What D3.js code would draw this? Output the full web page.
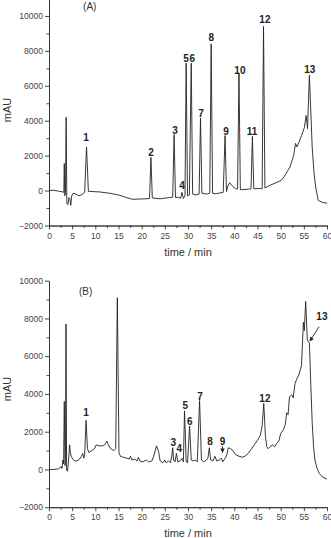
<!DOCTYPE html>
<html>
<head>
<meta charset="utf-8">
<script src="https://cdn.jsdelivr.net/npm/d3@7"></script>
<style>
	body { margin: 0; background: #fff; }
	svg { display: block; font-family: "Liberation Sans", Arial, sans-serif; }
	.axis path, .axis line { stroke: #333; stroke-width: 0.9; }
	.axis text { fill: #444; font-size: 8.5px; }
	.trace { fill: none; stroke: #222; stroke-width: 0.9; stroke-linejoin: round; }
	.peak { font-weight: bold; font-size: 10px; fill: #222; }
</style>
</head>
<body>
<script>
// time (min), absorbance (mAU)
const traceA = [
	[0,0],[1,20],[2,-30],[3,-80],[3.2,-100],[3.3,1550],[3.4,-300],[3.55,-200],[3.7,4200],[3.85,-750],
	[4.1,-800],[4.3,-400],[4.5,-450],[4.7,-850],[4.9,-300],[5.2,-150],[5.8,-200],[6.5,-300],[7.3,-200],
	[7.7,-100],[8.1,2500],[8.5,-50],[9,-50],[11,-80],[13,-150],[15,-250],[16.5,-380],[18,-500],[20,-480],
	[21.7,-460],[22.0,1900],[22.3,-420],[24,-470],[26,-400],[26.7,-380],[27.0,3200],[27.3,-400],[28.0,-380],
	[28.4,-450],[28.7,-100],[29.0,-450],[29.35,-300],[29.6,7300],[29.9,-300],[30.3,-250],[30.7,7300],
	[31.0,-200],[31.5,-250],[32.4,-200],[32.7,4150],[33.0,-150],[34.0,-200],[34.7,-150],[35.0,8400],
	[35.3,-150],[36,-180],[37.6,-100],[38.0,3150],[38.3,-50],[38.6,250],[39.0,450],[39.6,250],[40.3,100],
	[40.7,100],[41.0,6700],[41.3,50],[43.0,80],[43.6,100],[43.9,3100],[44.2,100],[45.5,120],[46.0,100],
	[46.3,9400],[46.6,150],[47.7,300],[49,450],[50.2,600],[51,900],[52,1350],[52.8,2000],[53.2,2700],
	[53.5,2500],[54.0,2800],[54.5,3150],[55.1,3600],[55.5,4300],[55.8,3550],[56.2,6600],[56.8,2500],
	[57.2,1000],[57.6,130],[58.1,-560],[59,-680],[60,-720]
];

const traceB = [
	[0,0],[1,0],[2,30],[2.6,150],[2.8,50],[3.0,500],[3.15,300],[3.3,3600],[3.45,200],[3.55,400],[3.67,7700],
	[3.8,-50],[4.0,-100],[4.2,400],[4.45,1300],[4.6,900],[4.8,700],[5.0,600],[5.5,450],[6.0,450],[6.6,550],
	[7.0,700],[7.3,850],[7.5,600],[7.7,800],[8.0,2600],[8.3,1100],[8.6,900],[9.2,1000],[9.8,1100],[10.2,1300],
	[10.8,1250],[11.5,1250],[12.0,1300],[12.5,1500],[12.8,1300],[13.3,1100],[14.0,1000],[14.4,1100],
	[14.75,9100],[15.1,900],[15.4,700],[16.0,650],[16.8,600],[17.3,550],[17.6,700],[17.9,500],[18.5,550],
	[19.0,450],[19.3,650],[19.6,450],[20.2,400],[21,500],[21.5,400],[22.2,450],[22.6,700],[23.2,1250],
	[23.6,1000],[24.0,450],[24.6,350],[25.0,500],[25.3,350],[25.8,450],[26.2,350],[26.5,700],[26.7,1150],
	[26.9,500],[27.2,400],[27.5,850],[27.8,400],[28.3,450],[28.8,600],[29.0,400],[29.25,3100],[29.6,450],
	[29.9,350],[30.35,2300],[30.7,500],[31.1,450],[31.6,500],[32.0,400],[32.5,3650],[32.9,500],[33.4,400],
	[34.0,500],[34.3,600],[34.6,1150],[34.9,500],[35.4,450],[35.8,700],[36.2,450],[36.8,500],[37.2,600],
	[37.5,400],[37.9,550],[38.3,700],[38.7,1150],[39.2,1100],[39.7,1000],[40.2,800],[41,700],[41.7,650],
	[42.3,700],[43.0,850],[43.6,1050],[44.3,1300],[45.0,1550],[45.6,1800],[46.0,2300],[46.35,3500],
	[46.7,1800],[47.0,1200],[47.3,1100],[47.7,1200],[48.2,1300],[48.7,1200],[49.2,1400],[49.6,1500],
	[50.0,1900],[50.6,2100],[51.0,2400],[51.3,3000],[51.6,2900],[51.9,3850],[52.4,3950],[52.7,3800],
	[53.1,4550],[53.5,4800],[53.9,5000],[54.2,5250],[54.5,5500],[54.9,7800],[55.1,7350],[55.4,8900],
	[55.75,6850],[56.2,6700],[56.5,4500],[56.8,2500],[57.1,1200],[57.4,500],[57.8,100],[58.3,-200],
	[58.9,-380],[60,-520]
];

// peak numbers: [label, time, mAU] of the text centre
const labelsA = [
	["1",8.0,3060],["2",22.0,2200],["3",27.2,3460],["4",28.7,300],["5",29.6,7590],["6",30.9,7590],
	["7",32.8,4440],["8",35.0,8800],["9",38.2,3400],["10",41.2,6900],["11",43.8,3400],["12",46.6,9830],
	["13",56.3,6960]
];
const labelsB = [
	["1",8.0,3000],["3",26.8,1430],["4",28.1,1140],["5",29.4,3370],["6",30.4,2520],["7",32.6,3850],
	["8",34.75,1460],["9",37.45,1500],["12",46.6,3760],["13",58.9,8090]
];
// arrows: [t0, v0, t1, v1]
const arrowsB = [[37.45,1230,37.45,900],[58.3,7560,56.3,6800]];

const xTicks = d3.range(0, 61, 5);
const xMinor = d3.range(2.5, 60, 5);
const yTicks = [-2000, 0, 2000, 4000, 6000, 8000, 10000];
const yMinor = [-1000, 1000, 3000, 5000, 7000, 9000];

const width = 331, height = 538;
const svg = d3.select("body").append("svg")
	.attr("width", width)
	.attr("height", height);

svg.append("defs").append("marker")
	.attr("id", "arrow")
	.attr("viewBox", "0 0 10 10")
	.attr("refX", 9).attr("refY", 5)
	.attr("markerWidth", 5).attr("markerHeight", 5)
	.attr("orient", "auto")
	.append("path")
	.attr("d", "M0,0L10,5L0,10z")
	.attr("fill", "#222");

function panel(trace, labels, arrows, opt) {
	let x = d3.scaleLinear().domain([0, 60]).range([49, 327]);
	let y = d3.scaleLinear().domain(opt.domain).range(opt.range);
	let bottom = opt.range[0];

	let g = svg.append("g");

	g.append("g").attr("class", "axis")
		.attr("transform", `translate(0,${bottom})`)
		.call(d3.axisBottom(x).tickValues(xTicks).tickFormat(d3.format("d"))
			.tickSize(4).tickSizeOuter(0).tickPadding(3));
	g.append("g").attr("class", "axis")
		.attr("transform", `translate(0,${bottom})`)
		.call(d3.axisBottom(x).tickValues(xMinor).tickSize(2.5).tickFormat("").tickSizeOuter(0));

	g.append("g").attr("class", "axis")
		.attr("transform", "translate(49,0)")
		.call(d3.axisLeft(y).tickValues(yTicks).tickFormat(d3.format("d"))
			.tickSize(4).tickSizeOuter(0).tickPadding(2));
	g.append("g").attr("class", "axis")
		.attr("transform", "translate(49,0)")
		.call(d3.axisLeft(y).tickValues(yMinor).tickSize(2.5).tickFormat("").tickSizeOuter(0));

	let line = d3.line()
		.x(d => x(d[0]))
		.y(d => y(d[1]));

	g.append("path")
		.datum(trace)
		.attr("class", "trace")
		.attr("d", line);

	g.selectAll(".peak")
		.data(labels)
		.enter().append("text")
		.attr("class", "peak")
		.attr("x", d => x(d[1]))
		.attr("y", d => y(d[2]))
		.attr("dy", "0.36em")
		.attr("text-anchor", "middle")
		.text(d => d[0]);

	g.selectAll(".arrow")
		.data(arrows)
		.enter().append("line")
		.attr("x1", d => x(d[0])).attr("y1", d => y(d[1]))
		.attr("x2", d => x(d[2])).attr("y2", d => y(d[3]))
		.attr("stroke", "#222")
		.attr("stroke-width", 0.9)
		.attr("marker-end", "url(#arrow)");

	g.append("text")
		.attr("x", x(opt.tag[0])).attr("y", y(opt.tag[1]))
		.attr("dy", "0.36em")
		.attr("text-anchor", "middle")
		.style("font-size", "10px").style("fill", "#333")
		.text(opt.title);

	g.append("text")
		.attr("x", 188).attr("y", bottom + 30)
		.attr("text-anchor", "middle")
		.style("font-size", "11px").style("fill", "#333")
		.text("time / min");

	g.append("text")
		.attr("transform", `translate(11,${opt.ylabelY}) rotate(-90)`)
		.attr("text-anchor", "middle")
		.style("font-size", "11px").style("fill", "#333")
		.text("mAU");
}

panel(traceA, labelsA, [], {
	domain: [-2000, 11000], range: [225.5, -1.5],
	title: "(A)", tag: [8.8, 10550], ylabelY: 110
});
panel(traceB, labelsB, arrowsB, {
	domain: [-2000, 10000], range: [507.2, 280.7],
	title: "(B)", tag: [7.9, 9450], ylabelY: 389
});
</script>
</body>
</html>
